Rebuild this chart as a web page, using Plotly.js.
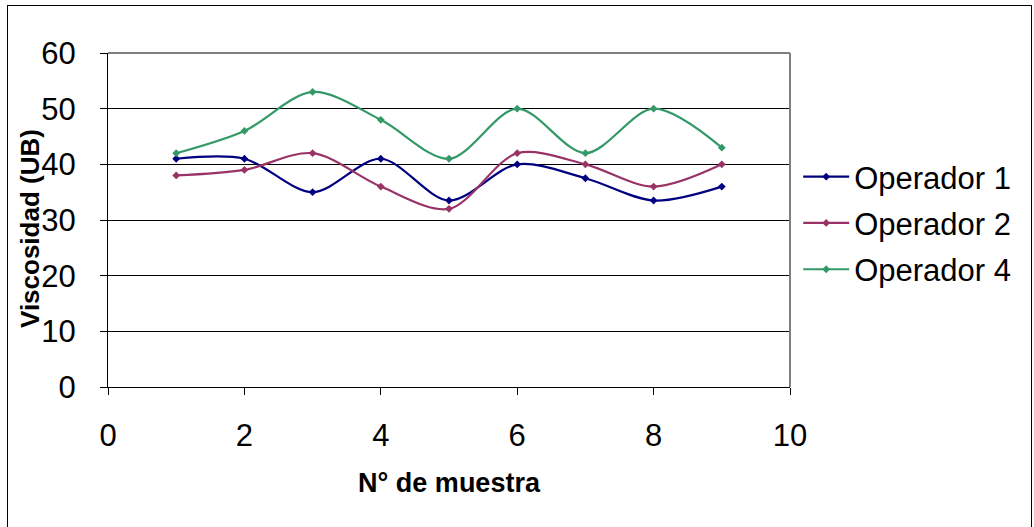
<!DOCTYPE html>
<html><head><meta charset="utf-8">
<script src="https://cdn.plot.ly/plotly-3.0.1.min.js"></script>
<style>
body{margin:0;padding:0;background:#fff;}
#wrap{position:relative;width:1034px;height:527px;}
#chart{position:absolute;left:0;top:0;width:1034px;height:527px;}
#frame{position:absolute;left:7px;top:5px;width:1023px;height:530px;border:1px solid #000;border-bottom:none;pointer-events:none;}
</style></head>
<body>
<div id="wrap"><div id="chart"></div><div id="frame"></div></div>
<script>
const muestras = [1,2,3,4,5,6,7,8,9];
const operador1 = [41,41,35,41,33.5,40,37.5,33.5,36];
const operador2 = [38,39,42,36,32,42,40,36,40];
const operador4 = [42,46,53,48,41,50,42,50,43];
const seriesNames = ['Operador 1','Operador 2','Operador 4'];
const xTitle = 'N° de muestra';
const yTitle = 'Viscosidad (UB)';
const colors = ['#000080','#993366','#339966'];
const data = [operador1, operador2, operador4].map((v,i)=>({
  x: muestras, y: v, name: seriesNames[i], type:'scatter', mode:'lines+markers',
  legendgroup:'g'+i,
  line:{color:colors[i], width:2.2, shape:'spline', smoothing:0.9},
  marker:{symbol:'diamond', size:6, color:colors[i]}
}));
const layout = {
  width:1034, height:527,
  margin:{l:108, r:244, t:53, b:140},
  paper_bgcolor:'#fff', plot_bgcolor:'#fff',
  font:{family:'Arial, Liberation Sans, sans-serif', color:'#000'},
  xaxis:{range:[0,10], dtick:2, tick0:0, ticks:'outside', ticklen:7, tickcolor:'#000',
    showgrid:false, zeroline:false, showline:true, linecolor:'#000', linewidth:1,
    tickfont:{size:31}, ticklabelstandoff:14, mirror:false,
    title:{text:'<b>'+xTitle+'</b>', font:{size:27}, standoff:20}},
  yaxis:{range:[0,60], dtick:10, ticks:'outside', ticklen:7, tickcolor:'#000',
    showgrid:true, gridcolor:'#000', gridwidth:1, zeroline:false, showline:true, linecolor:'#000', linewidth:1,
    tickfont:{size:31}, ticklabelstandoff:18},
  annotations:[{text:'<b>'+yTitle+'</b>', xref:'paper', yref:'paper', x:-0.1144, y:0.476,
    xanchor:'center', yanchor:'middle', textangle:-90, showarrow:false, font:{size:26}}],
  legend:{x:1.012, y:0.491, xanchor:'left', yanchor:'middle', font:{size:31}, itemwidth:46, tracegroupgap:3, bgcolor:'rgba(0,0,0,0)'},
  shapes:[
    {type:'line', xref:'paper', yref:'paper', x0:0, x1:1, y0:1, y1:1, line:{color:'#808080', width:2}},
    {type:'line', xref:'paper', yref:'paper', x0:1, x1:1, y0:0, y1:1, line:{color:'#808080', width:2}}
  ],
  showlegend:true
};
Plotly.newPlot('chart', data, layout, {displayModeBar:false, staticPlot:true});
</script>
</body></html>
